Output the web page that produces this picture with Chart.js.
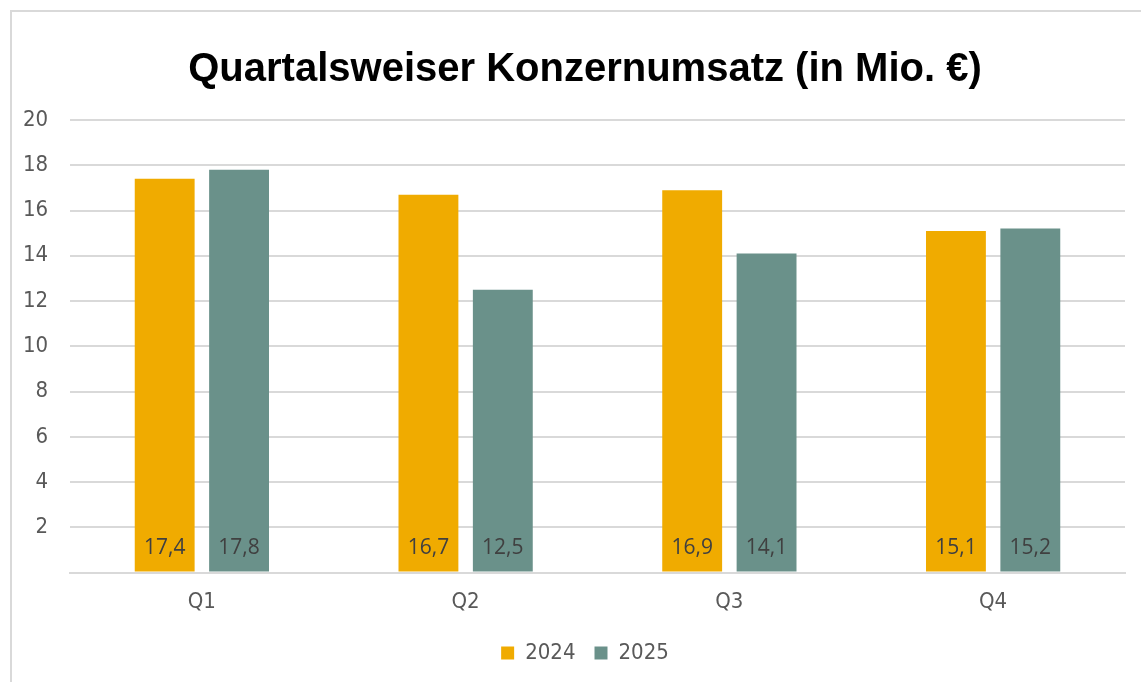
<!DOCTYPE html>
<html>
<head>
<meta charset="utf-8">
<script src="https://cdn.jsdelivr.net/npm/chart.js@4"></script>
<style>
  html, body { margin: 0; padding: 0; background: #fff; overflow: hidden; }
  #frame { position: absolute; left: 10px; top: 10px; width: 1160px; height: 700px; border: 2px solid #d9d9d9; }
  #wrap { position: absolute; left: 0; top: 0; width: 1141px; height: 682px; }
</style>
</head>
<body>
<div id="frame"></div>
<div id="wrap"><canvas id="umsatz"></canvas></div>
<script>
var quartale = ["Q1", "Q2", "Q3", "Q4"];
var umsatz2024 = [17.4, 16.7, 16.9, 15.1];
var umsatz2025 = [17.8, 12.5, 14.1, 15.2];
var jahre = ["2024", "2025"];
var yTicks = [2, 4, 6, 8, 10, 12, 14, 16, 18, 20];

var narrow = "'DejaVu Sans Condensed', 'Liberation Sans', Arial, sans-serif";

// Werte unten in die Balken schreiben, mit Komma
var wertLabels = {
    id: "wertLabels",
    afterDatasetsDraw: function (chart) {
        var ctx = chart.ctx;
        var bottom = chart.scales.y.getPixelForValue(0);
        ctx.save();
        ctx.font = "21px 'Open Sans', sans-serif";
        ctx.fillStyle = "#404040";
        ctx.textAlign = "center";
        ctx.textBaseline = "middle";
        chart.data.datasets.forEach(function (ds, i) {
            chart.getDatasetMeta(i).data.forEach(function (bar, j) {
                ctx.fillText(ds.data[j].toFixed(1).replace(".", ","), bar.x, bottom - 25);
            });
        });
        ctx.restore();
    }
};

var config = {
    type: "bar",
    data: {
        labels: quartale,
        datasets: [{
            label: jahre[0],
            data: umsatz2024,
            backgroundColor: "#f0ab00",
        }, {
            label: jahre[1],
            data: umsatz2025,
            backgroundColor: "#6a918a",
        }]
    },
    options: {
        responsive: true,
        maintainAspectRatio: false,
        animation: false,
        layout: { padding: { left: 45, right: 16, top: 22, bottom: 8 } },
        datasets: { bar: { barPercentage: 0.805, categoryPercentage: 0.564 } },
        plugins: {
            title: {
                display: true,
                text: "Quartalsweiser Konzernumsatz (in Mio. €)",
                color: "#000",
                font: { family: "'Liberation Sans', Arial, sans-serif", size: 40, weight: "bold" },
                padding: { top: 24, bottom: 26 }
            },
            legend: {
                position: "bottom",
                labels: {
                    boxWidth: 13,
                    boxHeight: 13,
                    padding: 19,
                    color: "#595959",
                    font: { family: narrow, size: 22 }
                }
            },
            tooltip: { enabled: false }
        },
        scales: {
            x: {
                grid: { display: false },
                border: { color: "#d9d9d9", width: 2 },
                ticks: { color: "#595959", font: { family: narrow, size: 22 }, padding: 8 }
            },
            y: {
                min: 0,
                max: 20,
                afterBuildTicks: function (axis) {
                    axis.ticks = [{ value: 0 }].concat(yTicks.map(function (v) { return { value: v }; }));
                },
                // schmale Achse, Beschriftung ragt nach links heraus
                afterFit: function (axis) { axis.width = 25; },
                grid: { color: "#d9d9d9", lineWidth: 2, drawTicks: false },
                border: { display: false },
                ticks: {
                    color: "#595959",
                    font: { family: narrow, size: 22 },
                    mirror: true,
                    crossAlign: "far",
                    padding: -47,
                    callback: function (v) { return v === 0 ? "" : v; }
                }
            }
        }
    },
    plugins: [wertLabels]
};

var chart = new Chart(document.getElementById("umsatz"), config);
</script>
</body>
</html>
